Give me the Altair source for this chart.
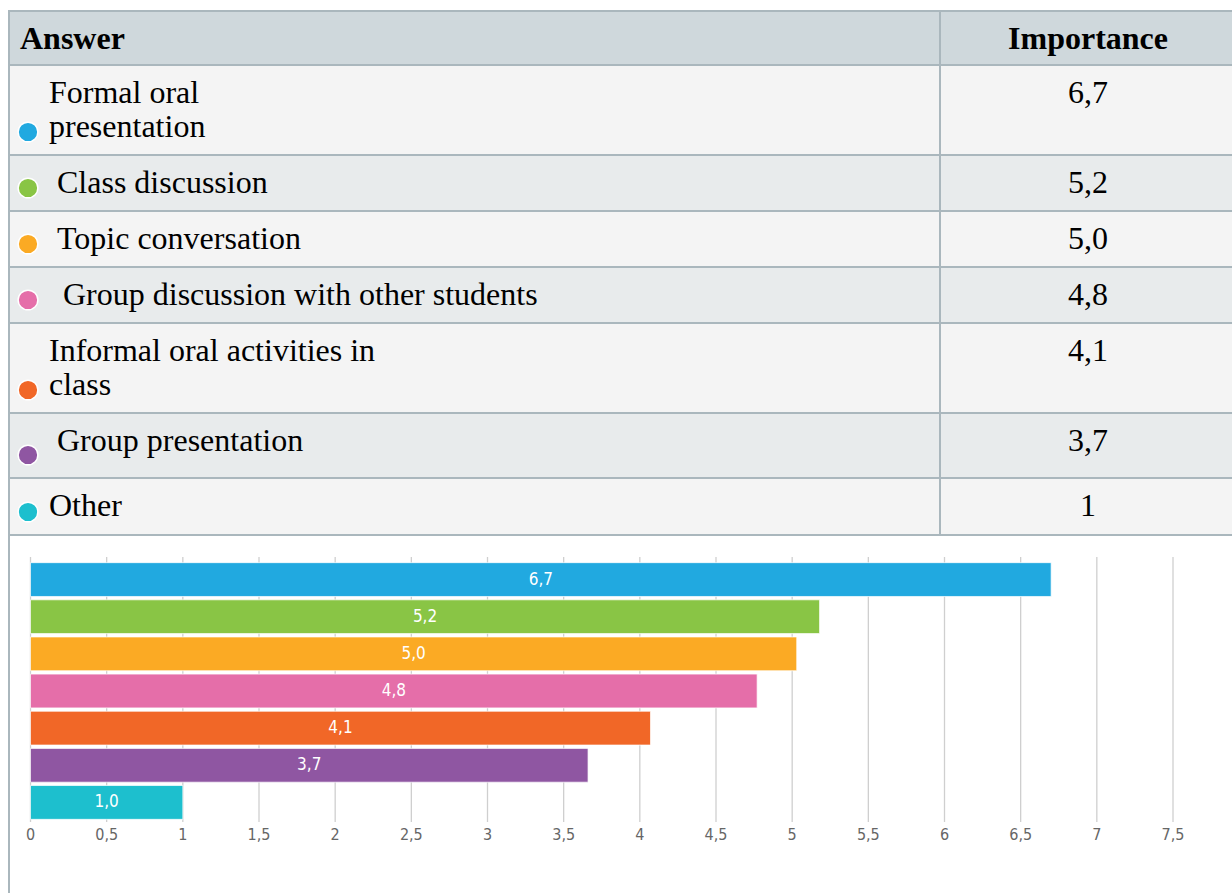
import altair as alt
import pandas as pd

# ---------------- data ----------------
answers = [
    "Formal oral presentation",
    "Class discussion",
    "Topic conversation",
    "Group discussion with other students",
    "Informal oral activities in class",
    "Group presentation",
    "Other",
]
# labels as they are broken in the table
table_labels = [
    "Formal oral\npresentation",
    "Class discussion",
    "Topic conversation",
    "Group discussion with other students",
    "Informal oral activities in\nclass",
    "Group presentation",
    "Other",
]
importance = [6.70, 5.18, 5.03, 4.77, 4.07, 3.66, 1.00]
table_values = ["6,7", "5,2", "5,0", "4,8", "4,1", "3,7", "1"]
bar_labels = ["6,7", "5,2", "5,0", "4,8", "4,1", "3,7", "1,0"]
headers = ["Answer", "Importance"]
x_ticks = [0, 0.5, 1, 1.5, 2, 2.5, 3, 3.5, 4, 4.5, 5, 5.5, 6, 6.5, 7, 7.5]
x_tick_labels = ["0", "0,5", "1", "1,5", "2", "2,5", "3", "3,5",
                 "4", "4,5", "5", "5,5", "6", "6,5", "7", "7,5"]

# ---------------- styles / layout ----------------
palette = ["#21a9e0", "#89c545", "#fbaa24", "#e56ea9", "#f16727", "#8f56a2", "#1dbfce"]
W, H = 1232, 893
T_LEFT, T_SPLIT, T_RIGHT = 9, 940, 1245
T_TOP, HEAD_H = 11, 54
ROW_H = [90, 56, 56, 56, 90, 65, 57]
INDENT = [0, 8, 8, 14, 0, 8, 0]          # leading spaces in the source table
HEAD_FILL, LIGHT_FILL, DARK_FILL, BORDER = "#cfd8dc", "#f4f4f4", "#e8ebec", "#aab7bd"
SERIF = "Liberation Serif"
SANS = "DejaVu Sans Condensed, DejaVu Sans, sans-serif"
FS = 32

# table geometry (layout only)
cells, rows = [], []
head_bottom = T_TOP + HEAD_H
cells.append(dict(x=T_LEFT, x2=T_SPLIT, y=T_TOP, y2=head_bottom, fill=HEAD_FILL))
cells.append(dict(x=T_SPLIT, x2=T_RIGHT, y=T_TOP, y2=head_bottom, fill=HEAD_FILL))
top = head_bottom
for i, h in enumerate(ROW_H):
    fill = LIGHT_FILL if i % 2 == 0 else DARK_FILL
    cells.append(dict(x=T_LEFT, x2=T_SPLIT, y=top, y2=top + h, fill=fill))
    cells.append(dict(x=T_SPLIT, x2=T_RIGHT, y=top, y2=top + h, fill=fill))
    rows.append(dict(label=table_labels[i], value=table_values[i], lx=49 + INDENT[i],
                     color=palette[i], base=top + 38, dot=top + h - 23))
    top += h
table_bottom = top
cells_df = pd.DataFrame(cells)
rows_df = pd.DataFrame(rows)
head_df = pd.DataFrame(dict(text=headers, x=[20, 1088], y=[T_TOP + 38] * 2))
edge_df = pd.DataFrame(dict(x=[T_LEFT], y=[table_bottom], y2=[H]))

bars_df = pd.DataFrame(dict(answer=answers, importance=importance,
                            mid=[v / 2 for v in importance], label=bar_labels))
ticks_df = pd.DataFrame(dict(t=x_ticks, lab=x_tick_labels))

# ---------------- table layers ----------------
cell_layer = alt.Chart(cells_df).mark_rect(stroke=BORDER, strokeWidth=2).encode(
    x=alt.X("x:Q", scale=None), x2="x2:Q",
    y=alt.Y("y:Q", scale=None), y2="y2:Q",
    fill=alt.Fill("fill:N", scale=None),
)
edge_layer = alt.Chart(edge_df).mark_rule(color=BORDER, strokeWidth=2).encode(
    x=alt.X("x:Q", scale=None), y=alt.Y("y:Q", scale=None), y2="y2:Q"
)
head_left = alt.Chart(head_df.iloc[[0]]).mark_text(
    font=SERIF, fontSize=FS, fontWeight="bold", align="left", baseline="alphabetic", color="#000"
).encode(x=alt.X("x:Q", scale=None), y=alt.Y("y:Q", scale=None), text="text:N")
head_right = alt.Chart(head_df.iloc[[1]]).mark_text(
    font=SERIF, fontSize=FS, fontWeight="bold", align="center", baseline="alphabetic", color="#000"
).encode(x=alt.X("x:Q", scale=None), y=alt.Y("y:Q", scale=None), text="text:N")

label_layer = alt.Chart(rows_df).mark_text(
    font=SERIF, fontSize=FS, align="left", baseline="alphabetic", lineBreak="\n",
    lineHeight=34, color="#000"
).encode(x=alt.X("lx:Q", scale=None), y=alt.Y("base:Q", scale=None), text="label:N")
value_layer = alt.Chart(rows_df).mark_text(
    font=SERIF, fontSize=FS, align="center", baseline="alphabetic", color="#000"
).encode(x=alt.value(1088), y=alt.Y("base:Q", scale=None), text="value:N")
dot_layer = alt.Chart(rows_df).mark_point(
    shape="circle", filled=True, size=390, stroke="white", strokeWidth=1.5, opacity=1
).encode(x=alt.value(28), y=alt.Y("dot:Q", scale=None),
         fill=alt.Fill("color:N", scale=None))

# ---------------- bar chart layers ----------------
xscale = alt.Scale(domain=[0, 7.5], range=[30.5, 1173], nice=False, zero=True)
yscale = alt.Scale(domain=answers, range=[561, 821], paddingInner=0.09, paddingOuter=0.045)

grid_layer = alt.Chart(ticks_df).mark_rule(color="#cfcfcf", strokeWidth=1.3).encode(
    x=alt.X("t:Q", scale=xscale, axis=None), y=alt.value(557), y2=alt.value(822)
)
tick_text = alt.Chart(ticks_df).mark_text(
    font=SANS, fontSize=16, color="#666666", baseline="middle", align="center"
).encode(x=alt.X("t:Q", scale=xscale, axis=None), y=alt.value(835), text="lab:N")

bar_layer = alt.Chart(bars_df).mark_bar(stroke="white", strokeWidth=1, strokeOpacity=0.7).encode(
    x=alt.X("importance:Q", scale=xscale, axis=None),
    y=alt.Y("answer:N", scale=yscale, sort=answers, axis=None),
    fill=alt.Fill("answer:N", scale=alt.Scale(domain=answers, range=palette), legend=None),
)
bar_text = alt.Chart(bars_df).mark_text(
    font=SANS, fontSize=17, color="white", baseline="middle", align="center"
).encode(
    x=alt.X("mid:Q", scale=xscale, axis=None),
    y=alt.Y("answer:N", scale=yscale, sort=answers, axis=None),
    text="label:N",
)

chart = alt.layer(
    cell_layer, edge_layer, head_left, head_right, label_layer, value_layer, dot_layer,
    grid_layer, tick_text, bar_layer, bar_text,
).resolve_scale(x="independent", y="independent", fill="independent").properties(
    width=W, height=H, padding=0, autosize=alt.AutoSizeParams(type="none"),
    background="white",
).configure_view(stroke=None)

chart.save("out.html", embed_options={"renderer": "svg", "actions": False})
